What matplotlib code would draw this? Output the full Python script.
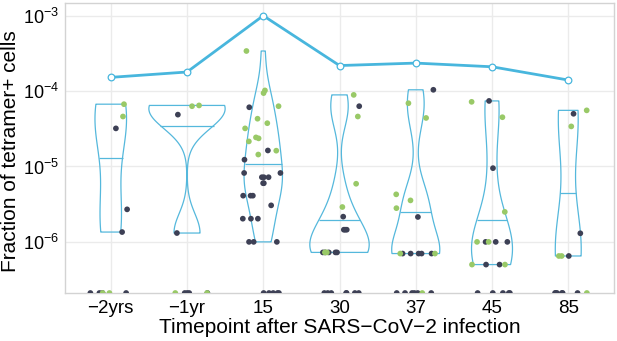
import numpy as np
import matplotlib
matplotlib.use('Agg')
import matplotlib.pyplot as plt
from matplotlib import cbook

plt.rcParams['font.family'] = ['Liberation Sans', 'DejaVu Sans']
plt.rcParams['mathtext.fontset'] = 'custom'
plt.rcParams['mathtext.rm'] = 'Liberation Sans'
plt.rcParams['mathtext.it'] = 'Liberation Sans:italic'
plt.rcParams['mathtext.bf'] = 'Liberation Sans:bold'
plt.rcParams['mathtext.default'] = 'regular'

# ---------------- data ----------------
categories = ['\u22122yrs', '\u22121yr', '15', '30', '37', '45', '85']

# dark points per timepoint (0 = below detection, drawn at panel bottom)
dark_vals = [
    [3.2e-5, 2.7e-6, 1.35e-6, 0, 0, 0, 0],
    [4.87e-5, 1.31e-6, 0, 0, 0, 0],
    [6.1e-5, 1.63e-5, 1.23e-5, 8.2e-6, 7.2e-6, 7.2e-6, 8.2e-6, 7.2e-6,
     6.0e-6, 6.0e-6, 4.1e-6, 4.1e-6, 4.1e-6, 3.05e-6, 2.03e-6, 2.03e-6,
     2.03e-6, 1.0e-6, 1.0e-6, 1.0e-6, 0, 0, 0, 0, 0],
    [6.3e-5, 2.16e-6, 1.45e-6, 1.45e-6, 1.45e-6, 7.25e-7, 7.25e-7,
     7.25e-7, 7.25e-7, 7.25e-7, 0, 0, 0, 0, 0, 0, 0],
    [1.04e-4, 2.14e-6, 7.0e-7, 7.0e-7, 7.0e-7, 7.0e-7, 7.0e-7,
     0, 0, 0, 0, 0, 0],
    [7.4e-5, 9.5e-6, 1.0e-6, 1.0e-6, 1.0e-6, 5.0e-7, 5.0e-7, 0, 0, 0, 0, 0],
    [5.0e-5, 1.3e-6, 6.5e-7, 0, 0, 0, 0, 0, 0],
]

# green points per timepoint
green_vals = [
    [6.7e-5, 4.6e-5, 0, 0],
    [6.45e-5, 6.3e-5, 0, 0],
    [3.4e-4, 1.02e-4, 9.4e-5, 6.3e-5, 4.3e-5, 3.75e-5, 3.2e-5, 2.36e-5,
     2.43e-5, 2.15e-5, 1.62e-5, 1.44e-5],
    [8.9e-5, 4.6e-5, 5.9e-6, 2.9e-6, 7.25e-7, 7.25e-7],
    [6.9e-5, 4.4e-5, 4.27e-6, 3.55e-6, 2.8e-6, 7.0e-7, 7.0e-7, 0],
    [7.2e-5, 4.5e-5, 2.5e-6, 1.0e-6, 1.0e-6, 5.0e-7, 5.0e-7],
    [5.55e-5, 3.4e-5, 6.5e-7, 6.5e-7, 0],
]

# summary line per timepoint
line_vals = [1.52e-4, 1.79e-4, 1.0e-3, 2.18e-4, 2.35e-4, 2.1e-4, 1.4e-4]

ytick_vals = [1e-3, 1e-4, 1e-5, 1e-6]
ytick_labels = [r'$10^{-3}$', r'$10^{-4}$', r'$10^{-5}$', r'$10^{-6}$']

# ---------------- style ----------------
DARK = '#3d4055'
GREEN = '#99c967'
VIOLIN = '#55b8dc'
LINE = '#48b6dd'
GRID = '#ebebeb'
BORDER = '#d3d3d3'

YMIN, YMAX = 10 ** -6.678, 10 ** -2.832
VIOLIN_MAX_WIDTH = 1.0


def nrd0(x):
    x = np.asarray(x)
    hi = np.std(x, ddof=1)
    q75, q25 = np.percentile(x, [75, 25])
    lo = min(hi, (q75 - q25) / 1.34)
    if not lo:
        lo = hi or abs(x[0]) or 1.0
    return 0.9 * lo * len(x) ** (-0.2)


def kde(X, coords):
    X = np.asarray(X)
    bw = nrd0(X)
    z = (coords[:, None] - X[None, :]) / bw
    return np.exp(-0.5 * z ** 2).sum(axis=1) / (len(X) * bw * np.sqrt(2 * np.pi))


fig = plt.figure(figsize=(6.17, 3.41), dpi=100)
ax = fig.add_axes([65 / 617, 1 - 293 / 341, (614 - 65) / 617, (293 - 3) / 341])
ax.set_yscale('log')

positions = np.arange(len(categories))

# violin statistics computed in log10 space
stats = []
for d, g in zip(dark_vals, green_vals):
    v = np.array(d + g, dtype=float)
    v = v[v > 0]
    st = cbook.violin_stats(np.log10(v), kde, points=512)[0]
    stats.append(st)

gmax = max(np.max(s['vals']) for s in stats)
widths = [VIOLIN_MAX_WIDTH * np.max(s['vals']) / gmax for s in stats]

medians = []
for s, w in zip(stats, widths):
    c = np.asarray(s['coords'])
    dens = np.asarray(s['vals'])
    cdf = np.cumsum(dens) / np.sum(dens)
    m = np.interp(0.5, cdf, c)
    half = 0.5 * w * np.interp(m, c, dens) / dens.max()
    medians.append((10 ** m, half))
    s['coords'] = 10 ** c

parts = ax.violin(stats, positions=positions, widths=widths,
                  showmeans=False, showextrema=False, showmedians=False)
for body in parts['bodies']:
    body.set_facecolor('none')
    body.set_edgecolor(VIOLIN)
    body.set_linewidth(0.9)
    body.set_alpha(1)
    body.set_zorder(2)

for p, (m, half) in zip(positions, medians):
    ax.hlines(m, p - half, p + half, color=VIOLIN, lw=0.9, zorder=2)

# jittered points
rng = np.random.default_rng(7)
for p, d, g in zip(positions, dark_vals, green_vals):
    for vals, col in ((d, DARK), (g, GREEN)):
        vals = np.asarray(vals, dtype=float)
        y = np.where(vals > 0, vals, YMIN)
        x = p + rng.uniform(-0.27, 0.27, len(vals))
        ax.scatter(x, y, s=17, color=col, edgecolors='none', zorder=3)

# summary line
ax.plot(positions, line_vals, color=LINE, lw=2.0, marker='o', ms=4.8,
        mfc='white', mec=LINE, mew=0.9, zorder=4)

ax.set_xlim(-0.6, 6.6)
ax.set_ylim(YMIN, YMAX)
ax.set_xticks(positions)
ax.set_xticklabels(categories)
ax.set_yticks(ytick_vals)
ax.set_yticklabels(ytick_labels)
ax.yaxis.set_minor_locator(matplotlib.ticker.NullLocator())

ax.grid(True, color=GRID, lw=1.0, zorder=0)
ax.set_axisbelow(True)
for sp in ax.spines.values():
    sp.set_color(BORDER)
    sp.set_linewidth(1.0)

ax.tick_params(axis='x', length=0, labelsize=13.5, pad=5, colors='black')
ax.tick_params(axis='y', length=0, labelsize=13, pad=4, colors='black')
ax.set_xlabel('Timepoint after SARS\u2212CoV\u22122 infection', fontsize=15, labelpad=1)
ax.set_ylabel('Fraction of tetramer+ cells', fontsize=15)
ax.yaxis.set_label_coords(-0.082, 0.49)

fig.savefig('out.png', dpi=100)
